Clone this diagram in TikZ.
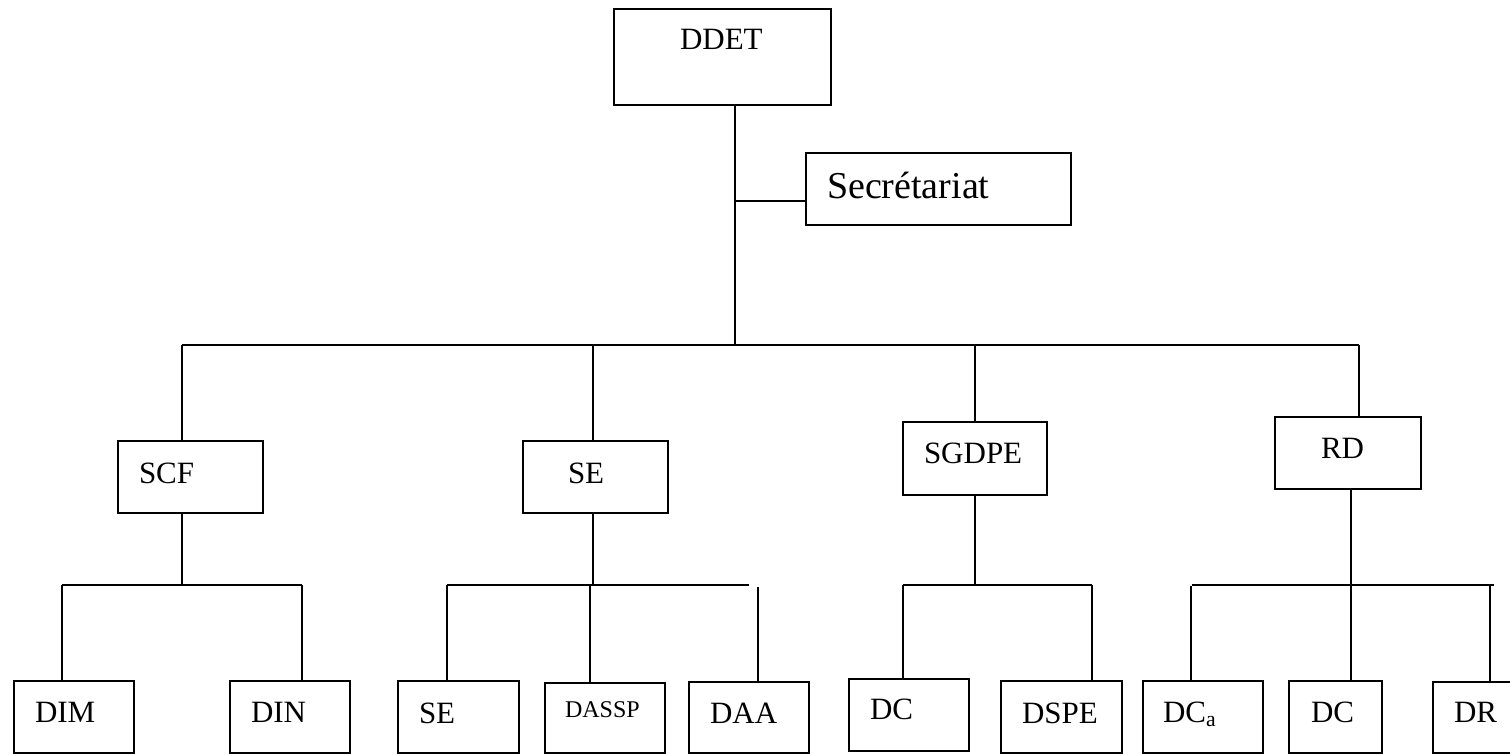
\documentclass[tikz,border=0pt]{standalone}
\usepackage{fontspec}
\setmainfont{Liberation Serif}
\newcommand\bx[5]{\node[box, anchor=north west, minimum width={(#4-#2)*0.5pt}, minimum height={(#5-#3)*0.5pt}] (#1) at (#2,#3) {};}
\tikzset{
  box/.style={draw, rectangle, inner sep=0pt, outer sep=0pt, line width=1pt},
  lbl/.style={inner sep=0pt, outer sep=0pt, anchor=base west, font=\fontsize{15.5pt}{18pt}\selectfont},
  big/.style={lbl, font=\fontsize{19pt}{22pt}\selectfont},
  small/.style={lbl, font=\fontsize{12pt}{14pt}\selectfont},
  conn/.style={line width=1pt}
}
\begin{document}
\begin{tikzpicture}[x=0.5pt, y=-0.5pt]
\useasboundingbox (0,0) rectangle (1510,754);
% boxes
\bx{DDET}{614}{9}{831}{105}
\bx{SEC}{806}{153}{1071}{225}
\bx{SCF}{118}{441}{263}{513}
\bx{SEa}{523}{441}{668}{513}
\bx{SGDPE}{903}{422}{1047}{495}
\bx{RD}{1275}{417}{1421}{489}
\bx{DIM}{14}{681}{134}{753}
\bx{DIN}{230}{681}{350}{753}
\bx{SEb}{398}{681}{519}{753}
\bx{DASSP}{545}{683}{665}{753}
\bx{DAA}{689}{682}{809}{753}
\bx{DCa}{849}{679}{969}{751}
\bx{DSPE}{1001}{681}{1122}{753}
\bx{DCsub}{1143}{681}{1263}{753}
\bx{DCb}{1289}{681}{1382}{753}
\bx{DR}{1433}{682}{1530}{753}
% texts
\node[lbl] (tDDET) at (680,50) {DDET};
\node[big] (tSEC) at (827,199) {Secrétariat};
\node[lbl] (tSCF) at (139,483) {SCF};
\node[lbl] (tSEa) at (568,483) {SE};
\node[lbl] (tSGDPE) at (924,463) {SGDPE};
\node[lbl] (tRD) at (1321,458) {RD};
\node[lbl] (tDIM) at (35,722) {DIM};
\node[lbl] (tDIN) at (251,722) {DIN};
\node[lbl] (tSEb) at (419,723) {SE};
\node[small] (tDASSP) at (565,717) {DASSP};
\node[lbl] (tDAA) at (710,723) {DAA};
\node[lbl] (tDCa) at (870,719) {DC};
\node[lbl] (tDSPE) at (1022,723) {DSPE};
\node[lbl] (tDCsub) at (1163,722) {DC\textsubscript{a}};
\node[lbl] (tDCb) at (1311,722) {DC};
\node[lbl] (tDR) at (1454,722) {DR};
% junction coordinates
\coordinate (trunk) at (735,345);
\coordinate (sj) at (735,201);
\coordinate (busL) at (182,345);
\coordinate (busR) at (1359,345);
\coordinate (jSE) at (593,345);
\coordinate (jSG) at (975,345);
% main trunk
\draw[conn] (DDET.south -| trunk) -- (trunk);
\draw[conn] (sj) -- (sj -| SEC.west);
\draw[conn] (busL) -- (busR);
\draw[conn] (busL) -- (SCF.north -| busL);
\draw[conn] (jSE) -- (SEa.north -| jSE);
\draw[conn] (jSG) -- (SGDPE.north -| jSG);
\draw[conn] (busR) -- (RD.north -| busR);
% SCF branch
\coordinate (s1) at (182,585);
\coordinate (s1L) at (62,585);
\coordinate (s1R) at (302,585);
\draw[conn] (SCF.south -| s1) -- (s1);
\draw[conn] (s1L) -- (s1R);
\draw[conn] (s1L) -- (DIM.north -| s1L);
\draw[conn] (s1R) -- (DIN.north -| s1R);
% SE branch
\coordinate (s2) at (593,585);
\coordinate (s2L) at (447,585);
\coordinate (s2R) at (749,585);
\coordinate (s2M) at (590,585);
\coordinate (s2D) at (758,587);
\draw[conn] (SEa.south -| s2) -- (s2);
\draw[conn] (s2L) -- (s2R);
\draw[conn] (s2L) -- (SEb.north -| s2L);
\draw[conn] (s2M) -- (DASSP.north -| s2M);
\draw[conn] (s2D) -- (DAA.north -| s2D);
% SGDPE branch
\coordinate (s3) at (975,585);
\coordinate (s3L) at (903,585);
\coordinate (s3R) at (1092,585);
\draw[conn] (SGDPE.south -| s3) -- (s3);
\draw[conn] (s3L) -- (s3R);
\draw[conn] (s3L) -- (DCa.north -| s3L);
\draw[conn] (s3R) -- (DSPE.north -| s3R);
% RD branch
\coordinate (s4) at (1351,585);
\coordinate (s4L) at (1192,585);
\coordinate (s4R) at (1494,585);
\coordinate (s4Ld) at (1191,586);
\coordinate (s4Rd) at (1490,585);
\draw[conn] (RD.south -| s4) -- (DCb.north -| s4);
\draw[conn] (s4L) -- (s4R);
\draw[conn] (s4Ld) -- (DCsub.north -| s4Ld);
\draw[conn] (s4Rd) -- (DR.north -| s4Rd);
\end{tikzpicture}
\end{document}
